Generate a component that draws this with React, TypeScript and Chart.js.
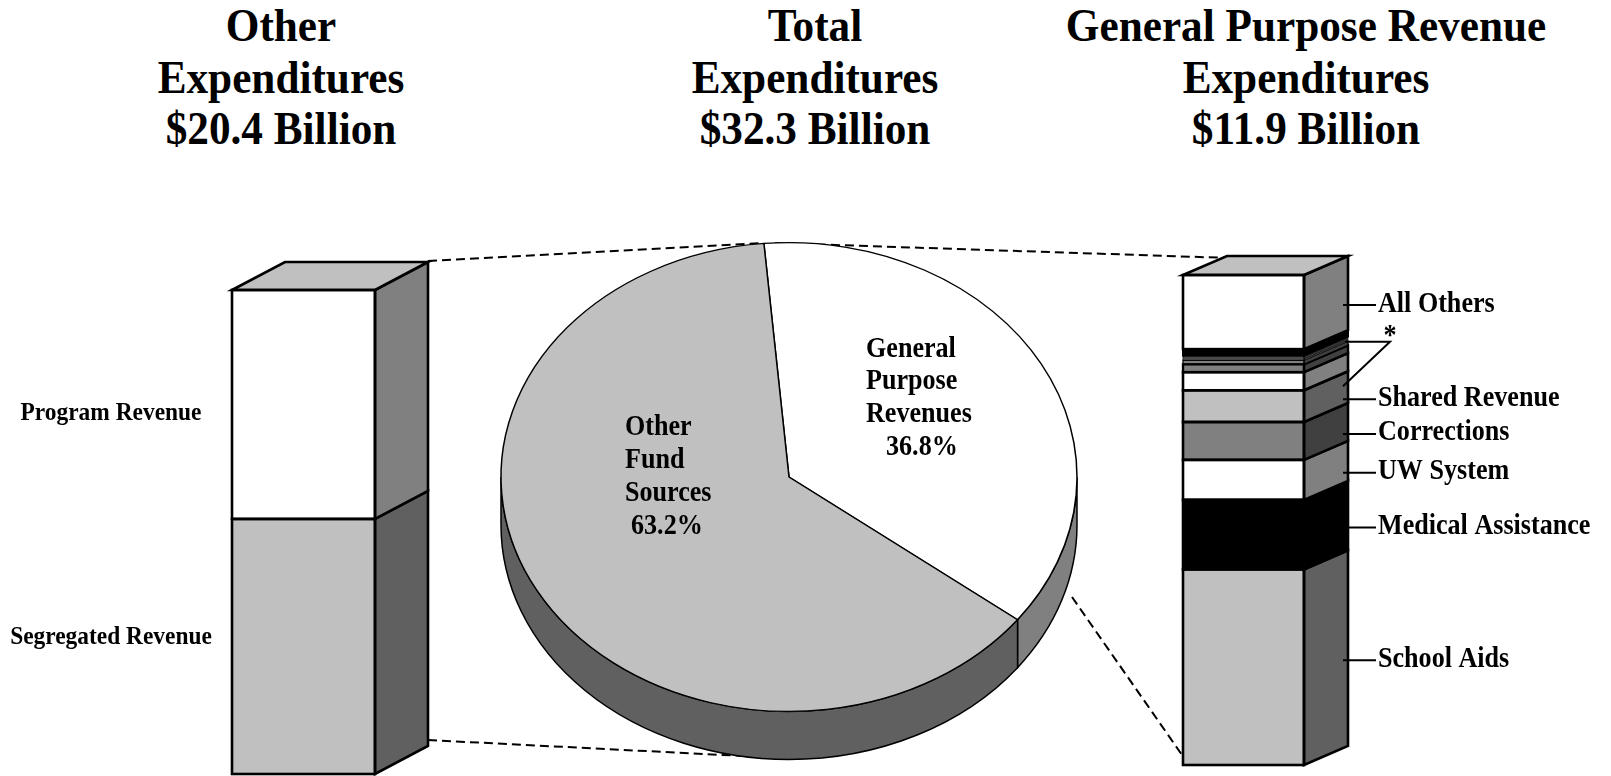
import React, { useEffect, useRef } from 'react';
import { Chart, registerables } from 'chart.js';

Chart.register(...registerables);

// ---------- Titles ----------
const titleOther = ['Other', 'Expenditures', '$20.4 Billion'];
const titleTotal = ['Total', 'Expenditures', '$32.3 Billion'];
const titleGpr = ['General Purpose Revenue', 'Expenditures', '$11.9 Billion'];

// ---------- Left stacked bar: Other Expenditures ($ billions), bottom -> top ----------
const otherCategories = ['Segregated Revenue', 'Program Revenue'];
const otherValues = [10.75, 9.65];
const otherTotal = 20.4;
const otherColors = ['#c0c0c0', '#ffffff'];

// ---------- Pie: Total Expenditures (%) ----------
const pieCategories = ['General Purpose Revenues', 'Other Fund Sources'];
const pieValues = [36.8, 63.2];
const pieColors = ['#ffffff', '#c0c0c0'];
const pieWallColors = ['#808080', '#606060'];

// ---------- Right stacked bar: GPR Expenditures ($ billions), bottom -> top ----------
const gprCategories = [
  'School Aids',
  'Medical Assistance',
  'UW System',
  'Corrections',
  'Shared Revenue',
  '*',
  '*',
  '*',
  '*',
  '*',
  '*',
  '*',
  'All Others',
];
const gprValues = [4.75, 1.69, 0.97, 0.92, 0.77, 0.44, 0.19, 0.1, 0.03, 0.05, 0.03, 0.16, 1.8];
const gprTotal = 11.9;
const gprColors = [
  '#c0c0c0',
  '#000000',
  '#ffffff',
  '#808080',
  '#c0c0c0',
  '#ffffff',
  '#808080',
  '#808080',
  '#ffffff',
  '#808080',
  '#ffffff',
  '#000000',
  '#ffffff',
];

const SERIF = '"Liberation Serif", "Times New Roman", serif';
const CONDENSE = 0.9;

function sideShade(c: string): string {
  const map: Record<string, string> = {
    '#ffffff': '#808080',
    '#c0c0c0': '#606060',
    '#808080': '#404040',
    '#000000': '#000000',
  };
  return map[c] || '#606060';
}

function drawCondensed(
  ctx: CanvasRenderingContext2D,
  text: string,
  x: number,
  y: number,
  font: string,
  align: CanvasTextAlign,
  baseline: CanvasTextBaseline = 'middle'
) {
  ctx.save();
  ctx.font = font;
  ctx.fillStyle = '#000';
  ctx.textAlign = align;
  ctx.textBaseline = baseline;
  ctx.translate(x, y);
  ctx.scale(CONDENSE, 1);
  ctx.fillText(text, 0, 0);
  ctx.restore();
}

type BarGeom = { left: number; right: number; top: number; bottom: number };

function barGeoms(chart: any): BarGeom[] {
  const out: BarGeom[] = [];
  chart.data.datasets.forEach((_: any, i: number) => {
    const el = chart.getDatasetMeta(i).data[0];
    const p = el.getProps(['x', 'y', 'base', 'width'], true);
    out.push({
      left: p.x - p.width / 2,
      right: p.x + p.width / 2,
      top: Math.min(p.y, p.base),
      bottom: Math.max(p.y, p.base),
    });
  });
  return out;
}

function make3DBarPlugin(dx: number, dy: number, colors: string[]) {
  return {
    id: 'bar3d',
    afterDatasetsDraw(chart: any) {
      const ctx: CanvasRenderingContext2D = chart.ctx;
      const g = barGeoms(chart);
      ctx.save();
      ctx.lineJoin = 'miter';
      // side faces
      g.forEach((b, i) => {
        const h = b.bottom - b.top;
        const lw = Math.max(0.6, Math.min(2.6, h * 0.3));
        ctx.beginPath();
        ctx.moveTo(b.right, b.top);
        ctx.lineTo(b.right + dx, b.top + dy);
        ctx.lineTo(b.right + dx, b.bottom + dy);
        ctx.lineTo(b.right, b.bottom);
        ctx.closePath();
        ctx.fillStyle = sideShade(colors[i]);
        ctx.fill();
        ctx.lineWidth = lw;
        ctx.strokeStyle = '#000';
        ctx.stroke();
      });
      // top face
      const t = g[g.length - 1];
      ctx.beginPath();
      ctx.moveTo(t.left, t.top);
      ctx.lineTo(t.left + dx, t.top + dy);
      ctx.lineTo(t.right + dx, t.top + dy);
      ctx.lineTo(t.right, t.top);
      ctx.closePath();
      ctx.fillStyle = '#c0c0c0';
      ctx.fill();
      ctx.lineWidth = 2.6;
      ctx.stroke();
      // front outlines
      g.forEach((b) => {
        const h = b.bottom - b.top;
        const lw = Math.max(0.6, Math.min(2.6, h * 0.3));
        ctx.lineWidth = lw;
        ctx.strokeStyle = '#000';
        ctx.strokeRect(b.left, b.top, b.right - b.left, h);
      });
      ctx.restore();
    },
  };
}

function barConfig(values: number[], names: string[], colors: string[], total: number, padding: any, plugins: any[]) {
  return {
    type: 'bar' as const,
    data: {
      labels: [''],
      datasets: values.map((v, i) => ({
        label: names[i],
        data: [v],
        backgroundColor: colors[i],
        borderWidth: 0,
        barPercentage: 1,
        categoryPercentage: 1,
      })),
    },
    options: {
      animation: false as const,
      responsive: false,
      maintainAspectRatio: false,
      layout: { padding },
      scales: {
        x: { stacked: true, display: false },
        y: { stacked: true, display: false, min: 0, max: total },
      },
      plugins: { legend: { display: false }, tooltip: { enabled: false } },
      events: [],
    },
    plugins,
  };
}

export default function App() {
  const leftRef = useRef<HTMLCanvasElement>(null);
  const pieRef = useRef<HTMLCanvasElement>(null);
  const rightRef = useRef<HTMLCanvasElement>(null);

  useEffect(() => {
    const charts: Chart[] = [];

    // ---- Left bar ----
    const leftLabels = {
      id: 'leftLabels',
      afterDraw(chart: any) {
        const g = barGeoms(chart);
        g.forEach((b, i) => {
          const mid = (b.top + b.bottom) / 2;
          const y = mid + (i === 0 ? -9 : 9);
          drawCondensed(chart.ctx, otherCategories[i], 111, y, `bold 26px ${SERIF}`, 'center');
        });
      },
    };
    charts.push(
      new Chart(
        leftRef.current!,
        barConfig(otherValues, otherCategories, otherColors, otherTotal, { left: 232, right: 85, top: 60, bottom: 2 }, [
          make3DBarPlugin(53, -28, otherColors),
          leftLabels,
        ]) as any
      )
    );

    // ---- Right bar ----
    const rdx = 44;
    const rdy = -19;
    const rightLabels = {
      id: 'rightLabels',
      afterDraw(chart: any) {
        const ctx: CanvasRenderingContext2D = chart.ctx;
        const g = barGeoms(chart);
        const font = `bold 29px ${SERIF}`;
        ctx.save();
        ctx.strokeStyle = '#000';
        ctx.lineWidth = 2;
        g.forEach((b, i) => {
          if (gprCategories[i] === '*') return;
          const backX = b.right + rdx;
          const y = (b.top + b.bottom) / 2 - 7;
          ctx.beginPath();
          ctx.moveTo(backX - 5, y);
          ctx.lineTo(backX + 28, y);
          ctx.stroke();
          drawCondensed(ctx, gprCategories[i], backX + 30, y - 1, font, 'left');
        });
        // asterisk group
        const starIdx = gprCategories.map((c, i) => (c === '*' ? i : -1)).filter((i) => i >= 0);
        const first = g[starIdx[0]];
        const rest = starIdx.slice(1).map((i) => g[i]);
        const gTop = Math.min(...rest.map((r) => r.top));
        const gBot = Math.max(...rest.map((r) => r.bottom));
        const backX = first.right + rdx;
        const p1y = (gTop + gBot) / 2 + rdy;
        const p2y = (first.top + first.bottom) / 2 + 5;
        const jx = backX + 42;
        ctx.beginPath();
        ctx.moveTo(backX - 3, p1y);
        ctx.lineTo(jx, p1y);
        ctx.lineTo(backX - 5, p2y);
        ctx.stroke();
        drawCondensed(ctx, '*', jx, p1y + 2, font, 'center', 'alphabetic');
        ctx.restore();
      },
    };
    charts.push(
      new Chart(
        rightRef.current!,
        barConfig(gprValues, gprCategories, gprColors, gprTotal, { left: 83, right: 307, top: 55, bottom: 11 }, [
          make3DBarPlugin(rdx, rdy, gprColors),
          rightLabels,
        ]) as any
      )
    );

    // ---- Pie ----
    const K = 0.814;
    const DEPTH = 48;
    const pie3d = {
      id: 'pie3d',
      beforeDatasetsDraw(chart: any) {
        const ctx: CanvasRenderingContext2D = chart.ctx;
        const meta = chart.getDatasetMeta(0);
        let cx = 0;
        let cy = 0;
        ctx.save();
        ctx.strokeStyle = '#000';
        ctx.lineWidth = 1.5;
        meta.data.forEach((el: any, i: number) => {
          const p = el.getProps(['x', 'y', 'startAngle', 'endAngle', 'outerRadius'], true);
          cx = p.x;
          cy = p.y;
          for (const off of [-2 * Math.PI, 0, 2 * Math.PI]) {
            const a0 = Math.max(p.startAngle, off);
            const a1 = Math.min(p.endAngle, off + Math.PI);
            if (a1 <= a0) continue;
            ctx.beginPath();
            ctx.ellipse(p.x, p.y, p.outerRadius, p.outerRadius * K, 0, a0, a1, false);
            ctx.ellipse(p.x, p.y + DEPTH, p.outerRadius, p.outerRadius * K, 0, a1, a0, true);
            ctx.closePath();
            ctx.fillStyle = pieWallColors[i];
            ctx.fill();
            ctx.stroke();
          }
        });
        ctx.restore();
        ctx.save();
        ctx.translate(cx, cy);
        ctx.scale(1, K);
        ctx.translate(-cx, -cy);
      },
      afterDatasetsDraw(chart: any) {
        const ctx: CanvasRenderingContext2D = chart.ctx;
        ctx.restore();
        const el = chart.getDatasetMeta(0).data[0];
        const { x, y } = el.getProps(['x', 'y'], true);
        const font = `bold 29px ${SERIF}`;
        // General Purpose Revenues
        drawCondensed(ctx, 'General', x + 77, y - 127, font, 'left');
        drawCondensed(ctx, 'Purpose', x + 77, y - 95, font, 'left');
        drawCondensed(ctx, 'Revenues', x + 77, y - 62, font, 'left');
        drawCondensed(ctx, `${pieValues[0].toFixed(1)}%`, x + 97, y - 29, font, 'left');
        // Other Fund Sources
        drawCondensed(ctx, 'Other', x - 164, y - 49, font, 'left');
        drawCondensed(ctx, 'Fund', x - 164, y - 16, font, 'left');
        drawCondensed(ctx, 'Sources', x - 164, y + 17, font, 'left');
        drawCondensed(ctx, `${pieValues[1].toFixed(1)}%`, x - 158, y + 50, font, 'left');
      },
    };
    charts.push(
      new Chart(pieRef.current!, {
        type: 'pie',
        data: {
          labels: pieCategories,
          datasets: [
            {
              data: pieValues,
              backgroundColor: pieColors,
              borderColor: '#000',
              borderWidth: 1.5,
            },
          ],
        },
        options: {
          animation: false,
          responsive: false,
          maintainAspectRatio: false,
          rotation: -5,
          radius: 288,
          layout: { padding: 0 },
          plugins: { legend: { display: false }, tooltip: { enabled: false } },
          events: [],
        },
        plugins: [pie3d],
      } as any)
    );

    return () => charts.forEach((c) => c.destroy());
  }, []);

  const titleStyle = (x: number): React.CSSProperties => ({
    position: 'absolute',
    left: x,
    top: 0,
    transform: 'translateX(-50%) scaleX(0.92)',
    whiteSpace: 'nowrap',
    textAlign: 'center',
    font: `bold 47px ${SERIF}`,
    lineHeight: '51.5px',
    color: '#000',
  });

  return (
    <div
      style={{
        position: 'fixed',
        left: 0,
        top: 0,
        width: 1611,
        height: 776,
        overflow: 'hidden',
        background: '#fff',
      }}
    >
      <svg width={1611} height={776} style={{ position: 'absolute', left: 0, top: 0 }}>
        <g stroke="#000" strokeWidth={2} strokeDasharray="9 5" fill="none">
          <line x1={428} y1={261} x2={763} y2={243} />
          <line x1={428} y1={740} x2={743} y2={756} />
          <line x1={775} y1={243} x2={1230} y2={258} />
          <line x1={1072} y1={597} x2={1182} y2={755} />
        </g>
      </svg>
      <canvas ref={leftRef} width={460} height={546} style={{ position: 'absolute', left: 0, top: 230 }} />
      <canvas ref={pieRef} width={620} height={620} style={{ position: 'absolute', left: 479, top: 167 }} />
      <canvas ref={rightRef} width={511} height={556} style={{ position: 'absolute', left: 1100, top: 220 }} />
      <div style={titleStyle(281)}>
        {titleOther.map((l, i) => (
          <div key={i}>{l}</div>
        ))}
      </div>
      <div style={titleStyle(815)}>
        {titleTotal.map((l, i) => (
          <div key={i}>{l}</div>
        ))}
      </div>
      <div style={titleStyle(1306)}>
        {titleGpr.map((l, i) => (
          <div key={i}>{l}</div>
        ))}
      </div>
    </div>
  );
}
